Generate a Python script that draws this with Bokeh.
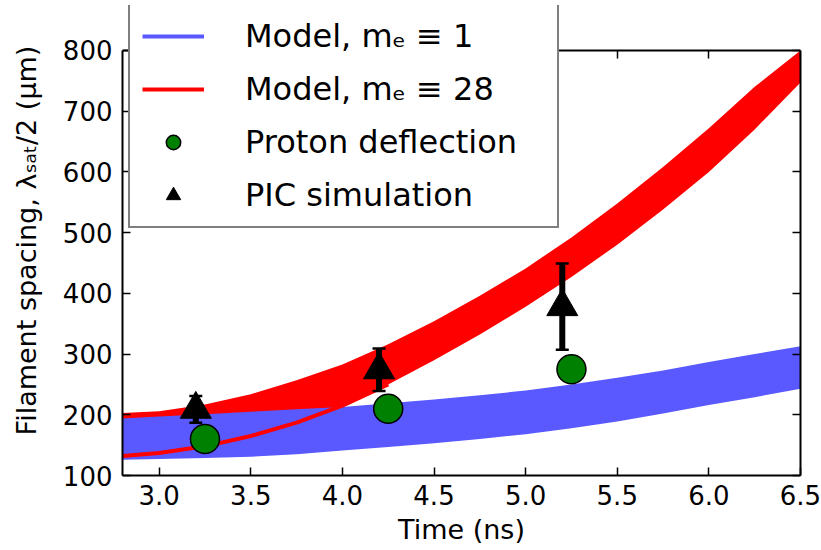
from bokeh.plotting import figure
from bokeh.models import (ColumnDataSource, Legend, LegendItem, FixedTicker,
                          LinearAxis, NumeralTickFormatter, Range1d, CustomLabelingPolicy)
from bokeh.embed import file_html
from bokeh.resources import INLINE

# ---- data ----
band_x = [2.8, 3.0, 3.25, 3.5, 3.75, 4.0, 4.25, 4.5, 4.75, 5.0, 5.25, 5.5, 5.75, 6.0, 6.25, 6.5]
blue_upper = [194, 197, 201, 205, 209, 213, 219, 225, 232, 240, 250, 261, 273, 287, 300, 313]
blue_lower = [126, 127, 129, 131, 135, 141, 147, 153, 160, 168, 178, 189, 202, 216, 229, 243]
red_upper = [203, 206, 217, 234, 257, 283, 316, 354, 396, 441, 492, 548, 608, 672, 740, 800]
red_lower = [132, 137, 148, 165, 187, 215, 250, 290, 332, 378, 427, 480, 538, 600, 670, 747]

proton_x = [3.25, 4.25, 5.25]
proton_y = [160, 210, 275]

pic_x = [3.2, 4.2, 5.2]
pic_y = [209, 274, 378]
pic_err = [22, 35, 71]

x_ticks = [3.0, 3.5, 4.0, 4.5, 5.0, 5.5, 6.0, 6.5]
y_ticks = [100, 200, 300, 400, 500, 600, 700, 800]

labels = ["Model, mₑ ≡ 1", "Model, mₑ ≡ 28", "Proton deflection", "PIC simulation"]

BLUE = "#5959ff"
RED = "#ff0000"
GREEN = "#008000"
FONT = "DejaVu Sans"

Y_MIN, Y_AXIS_MAX, Y_VIEW_MAX = 100, 800, 874

p = figure(width=821, height=550, x_range=Range1d(2.8, 6.5), y_range=Range1d(Y_MIN, Y_VIEW_MAX),
           output_backend="svg", toolbar_location=None,
           min_border_left=122, min_border_right=21, min_border_top=5, min_border_bottom=75)
p.xgrid.visible = False
p.ygrid.visible = False
p.outline_line_color = None
p.background_fill_color = "white"
p.border_fill_color = "white"

band_src = ColumnDataSource(dict(x=band_x, bu=blue_upper, bl=blue_lower, ru=red_upper, rl=red_lower))
p.varea(x="x", y1="rl", y2="ru", source=band_src, fill_color=RED)
p.varea(x="x", y1="bl", y2="bu", source=band_src, fill_color=BLUE)
line_src = ColumnDataSource(dict(x=band_x[:7], y=red_lower[:7]))
red_line = p.line(x="x", y="y", source=line_src, line_color=RED, line_width=4)

# single-point line: draws nothing on the plot, only provides the legend handle style
blue_handle = p.line(x=band_x[:1], y=blue_upper[:1], line_color=BLUE, line_width=4)

circles = p.scatter(proton_x, proton_y, marker="circle", size=29, fill_color=GREEN,
                    line_color="black", line_width=1.5)

err_src = ColumnDataSource(dict(x=pic_x,
                                lo=[y - e for y, e in zip(pic_y, pic_err)],
                                hi=[y + e for y, e in zip(pic_y, pic_err)]))
p.segment(x0="x", y0="lo", x1="x", y1="hi", source=err_src, line_color="black", line_width=6)
p.scatter(x="x", y="lo", source=err_src, marker="dash", size=13, line_color="black", line_width=2.5)
p.scatter(x="x", y="hi", source=err_src, marker="dash", size=13, line_color="black", line_width=2.5)

tris = p.scatter(pic_x, pic_y, marker="triangle", size=31, fill_color="black", line_color="black")

HIDE_JS = """
for (const i of indices) {
  indices.unset(i)
}
return indices
"""

def style_axis(ax, show=True):
    ax.major_tick_in = 8
    ax.major_tick_out = 0
    ax.minor_tick_in = 0
    ax.minor_tick_out = 0
    ax.major_tick_line_width = 1.5
    ax.major_tick_line_color = "black"
    ax.axis_line_color = "black"
    ax.axis_line_width = 2
    ax.major_label_text_font = FONT
    ax.major_label_text_color = "black"
    if show:
        ax.major_label_text_font_size = "26px"
        ax.major_label_standoff = 9
        ax.axis_label_text_font = FONT
        ax.axis_label_text_font_size = "27px"
        ax.axis_label_text_font_style = "normal"
        ax.axis_label_text_color = "black"
    else:
        ax.major_label_text_font_size = "1px"
        ax.major_label_standoff = 0
        ax.major_label_policy = CustomLabelingPolicy(code=HIDE_JS)

xa = p.xaxis[0]
xa.ticker = FixedTicker(ticks=x_ticks)
xa.formatter = NumeralTickFormatter(format="0.0")
xa.axis_label = "Time (ns)"
style_axis(xa)
xa.axis_label_standoff = 6

ya = p.yaxis[0]
ya.ticker = FixedTicker(ticks=y_ticks)
ya.formatter = NumeralTickFormatter(format="0")
ya.axis_label = "Filament spacing, λₛₐₜ/2 (μm)"
ya.bounds = (Y_MIN, Y_AXIS_MAX)
style_axis(ya)
ya.major_label_standoff = 10
ya.axis_label_standoff = 18

ra = LinearAxis(ticker=FixedTicker(ticks=y_ticks), bounds=(Y_MIN, Y_AXIS_MAX))
style_axis(ra, show=False)
p.add_layout(ra, "right")

ta = LinearAxis(ticker=FixedTicker(ticks=x_ticks), fixed_location=Y_AXIS_MAX)
style_axis(ta, show=False)
p.add_layout(ta, "above")

legend = Legend(items=[LegendItem(label=labels[0], renderers=[blue_handle]),
                       LegendItem(label=labels[1], renderers=[red_line]),
                       LegendItem(label=labels[2], renderers=[circles]),
                       LegendItem(label=labels[3], renderers=[tris])],
                location=(6, 247))
legend.label_text_font = FONT
legend.label_text_font_size = "32px"
legend.label_text_color = "black"
legend.label_height = 36
legend.glyph_height = 36
legend.glyph_width = 62
legend.label_standoff = 41
legend.label_width = 300
legend.spacing = 15
legend.padding = 12
legend.margin = 0
legend.border_line_color = "black"
legend.border_line_width = 2
legend.background_fill_color = "white"
legend.background_fill_alpha = 1.0
p.add_layout(legend)

open("out.html", "w").write(file_html(p, INLINE))
